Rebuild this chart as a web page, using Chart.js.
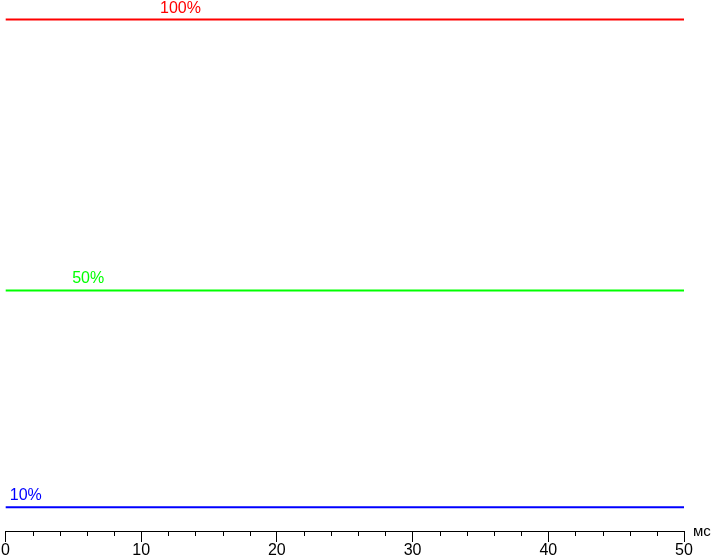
<!DOCTYPE html>
<html>
<head>
<meta charset="utf-8">
<script src="https://cdn.jsdelivr.net/npm/chart.js@4"></script>
<style>
  html, body { margin: 0; padding: 0; background: #fff; }
  #wrap { width: 711px; height: 560px; }
</style>
</head>
<body>
<div id="wrap"><canvas id="chart"></canvas></div>
<script>
// time, ms
const timeMs = [0, 50];
// brightness levels
const levels = ["100%", "50%", "10%"];
const level100 = [100, 100];
const level50 = [50, 50];
const level10 = [10, 10];
const xTicks = [0, 10, 20, 30, 40, 50];
const unitLabel = "мс";

const colors = ["#ff0000", "#00ff00", "#0000ff"];
const labelAt = [12.9, 6.1, 1.5];

function toPoints(ys) {
  return ys.map((y, i) => ({ x: timeMs[i], y: y }));
}

const extras = {
  id: "extras",
  afterDraw(chart) {
    const ctx = chart.ctx;
    const x = chart.scales.x;
    const y = chart.scales.y;
    const area = chart.chartArea;
    ctx.save();
    // minor ticks every 2 ms
    ctx.strokeStyle = "#000";
    ctx.lineWidth = 1;
    for (let t = 0; t <= 50; t += 2) {
      if (t % 10 === 0) continue;
      const px = Math.round(x.getPixelForValue(t)) + 0.5;
      ctx.beginPath();
      ctx.moveTo(px, area.bottom);
      ctx.lineTo(px, area.bottom + 5);
      ctx.stroke();
    }
    // level labels
    ctx.font = "16px 'Liberation Sans', Arial, sans-serif";
    ctx.textAlign = "center";
    ctx.textBaseline = "alphabetic";
    chart.data.datasets.forEach((ds, i) => {
      const px = x.getPixelForValue(labelAt[i]);
      const py = y.getPixelForValue(ds.data[0].y) - 7;
      ctx.fillStyle = colors[i];
      ctx.fillText(levels[i], px, py);
    });
    // unit
    ctx.fillStyle = "#000";
    ctx.textAlign = "left";
    ctx.font = "15px 'Liberation Sans', Arial, sans-serif";
    ctx.fillText(unitLabel, area.right + 9, area.bottom + 5);
    ctx.restore();
  }
};

new Chart("chart", {
  type: "line",
  data: {
    datasets: [
      { label: levels[0], data: toPoints(level100), borderColor: colors[0] },
      { label: levels[1], data: toPoints(level50), borderColor: colors[1] },
      { label: levels[2], data: toPoints(level10), borderColor: colors[2] }
    ]
  },
  options: {
    responsive: true,
    maintainAspectRatio: false,
    animation: false,
    layout: { padding: { left: 0, right: 27, top: 0, bottom: 0 } },
    elements: {
      point: { radius: 0 },
      line: { borderWidth: 2, tension: 0 }
    },
    plugins: {
      legend: { display: false },
      tooltip: { enabled: false }
    },
    scales: {
      x: {
        type: "linear",
        min: 0,
        max: 50,
        afterBuildTicks: (s) => { s.ticks = xTicks.map((v) => ({ value: v })); },
        ticks: {
          color: "#000",
          padding: 1,
          maxRotation: 0,
          font: { family: "'Liberation Sans', Arial, sans-serif", size: 16, lineHeight: 1 }
        },
        grid: { drawOnChartArea: false, tickLength: 11, color: "#000" },
        border: { display: true, color: "#000", width: 1 }
      },
      y: {
        display: false,
        min: 5.6,
        max: 103.6
      }
    }
  },
  plugins: [extras]
});
</script>
</body>
</html>
